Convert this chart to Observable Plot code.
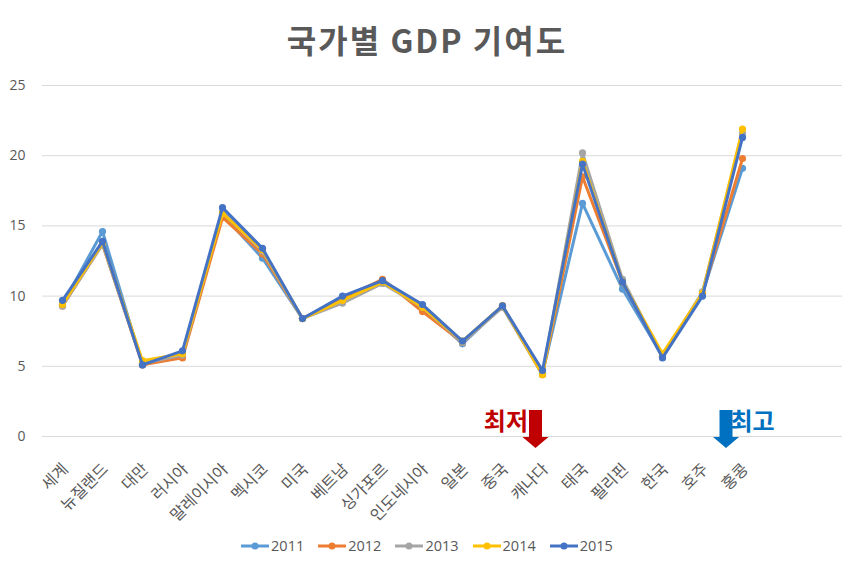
<!DOCTYPE html>
<html>
<head>
<meta charset="utf-8">
<script src="https://cdn.jsdelivr.net/npm/d3@7"></script>
<script src="https://cdn.jsdelivr.net/npm/@observablehq/plot@0.6"></script>
<style>
  html, body { margin: 0; padding: 0; background: #fff; }
  body { width: 854px; height: 570px; position: relative; overflow: hidden;
         font-family: "Open Sans", "Noto Sans CJK KR", sans-serif; color: #595959; }
  #title { position: absolute; left: 0; top: 14px; width: 854px; text-align: center;
           font-family: "Noto Sans CJK KR", sans-serif; font-weight: 700; font-size: 32px;
           line-height: 50px; color: #595959; letter-spacing: 2px; }
  #chart { position: absolute; left: 0; top: 70px; }
  #legend { position: absolute; left: 0; top: 536px; width: 854px; display: flex;
            justify-content: center; align-items: center; font-size: 14.5px; }
  .item { display: flex; align-items: center; margin: 0 7px; }
  .item svg { margin-right: 2px; }
</style>
</head>
<body>
<div id="title">국가별 GDP 기여도</div>
<div id="chart"></div>
<div id="legend"></div>
<script>
const countries = ["세계","뉴질랜드","대만","러시아","말레이시아","멕시코","미국","베트남","싱가포르","인도네시아","일본","중국","캐나다","태국","필리핀","한국","호주","홍콩"];
const years = ["2011","2012","2013","2014","2015"];
const v2011 = [9.4, 14.6, 5.1, 5.8, 15.8, 12.7, 8.4, 9.8, 11.0, 9.2, 6.6, 9.3, 4.5, 16.6, 10.5, 5.7, 10.2, 19.1];
const v2012 = [9.3, 13.7, 5.1, 5.6, 15.6, 13.0, 8.4, 9.8, 11.2, 8.9, 6.7, 9.3, 4.4, 18.5, 11.0, 5.7, 10.2, 19.8];
const v2013 = [9.3, 13.7, 5.2, 5.8, 16.0, 13.2, 8.4, 9.5, 10.9, 9.2, 6.7, 9.2, 4.4, 20.2, 11.2, 5.7, 10.3, 21.6];
const v2014 = [9.4, 13.8, 5.4, 5.9, 15.9, 13.3, 8.4, 9.7, 11.0, 9.2, 6.8, 9.3, 4.4, 19.6, 11.0, 5.9, 10.2, 21.9];
const v2015 = [9.7, 13.9, 5.1, 6.1, 16.3, 13.4, 8.4, 10.0, 11.1, 9.4, 6.8, 9.3, 4.7, 19.4, 11.0, 5.6, 10.0, 21.3];
const yTicks = [0, 5, 10, 15, 20, 25];
const annotations = [
  {label: "최저", country: "캐나다"},
  {label: "최고", country: "홍콩"}
];

const series = [v2011, v2012, v2013, v2014, v2015];
const colors = ["#5B9BD5", "#ED7D31", "#A5A5A5", "#FFC000", "#4472C4"];
const padSlots = ["__pad1", "__pad2"];

const data = [];
years.forEach((yr, i) => countries.forEach((c, j) => data.push({year: yr, country: c, value: series[i][j]})));

const annoStyle = [
  {color: "#C00000", dx: -6.5, side: "left"},
  {color: "#0070C0", dx: -16, side: "right"}
];

function annotationMark(index, scales, values, dimensions) {
  const g = d3.create("svg:g");
  const y0 = scales.y(0);
  annotations.forEach((a, i) => {
    const s = annoStyle[i];
    const x0 = scales.x(a.country) + s.dx;
    const sw = 6.5, hw = 13;
    const top = y0 - 26, hs = y0 + 1, tip = y0 + 12;
    g.append("path")
      .attr("d", `M${x0-sw},${top}H${x0+sw}V${hs}H${x0+hw}L${x0},${tip}L${x0-hw},${hs}H${x0-sw}Z`)
      .attr("fill", s.color);
    g.append("text")
      .attr("x", s.side === "left" ? x0 - sw - 1 : x0 + sw - 2)
      .attr("y", y0 - 17)
      .attr("text-anchor", s.side === "left" ? "end" : "start")
      .attr("dominant-baseline", "central")
      .attr("font-family", "'Noto Sans CJK KR', sans-serif")
      .attr("font-weight", 700)
      .attr("font-size", 24)
      .attr("fill", s.color)
      .text(a.label);
  });
  return g.node();
}

const marks = [
  Plot.gridY(yTicks, {stroke: "#D9D9D9", strokeOpacity: 1, strokeWidth: 1}),
  Plot.axisY(yTicks, {tickSize: 0, tickPadding: 17, fontSize: 14, label: null}),
  Plot.axisX(countries, {tickSize: 0, tickRotate: -45, tickPadding: 20, fontSize: 16, label: null,
                         dx: 3, dy: 10,
                         fontFamily: "'Noto Sans CJK KR', sans-serif"})
];
years.forEach(yr => {
  const d = data.filter(r => r.year === yr);
  marks.push(Plot.line(d, {x: "country", y: "value", stroke: "year", strokeWidth: 3, strokeLinejoin: "round"}));
  marks.push(Plot.dot(d, {x: "country", y: "value", fill: "year", r: 3.6, stroke: "none"}));
});
marks.push(annotationMark);

const chart = Plot.plot({
  width: 854,
  height: 455,
  marginTop: 15,
  marginBottom: 89,
  marginLeft: 42,
  marginRight: 12,
  x: {type: "point", domain: [...countries, ...padSlots], padding: 0.5},
  y: {domain: [0, 25]},
  color: {domain: years, range: colors},
  style: {fontFamily: "'Open Sans', 'Noto Sans CJK KR', sans-serif", fontSize: "14px", color: "#595959", background: "#fff"},
  marks
});
document.getElementById("chart").appendChild(chart);

const legend = d3.select("#legend");
years.forEach((yr, i) => {
  const it = legend.append("div").attr("class", "item");
  const sv = it.append("svg").attr("width", 28).attr("height", 10);
  sv.append("line").attr("x1", 0).attr("x2", 28).attr("y1", 5).attr("y2", 5)
    .attr("stroke", colors[i]).attr("stroke-width", 3);
  sv.append("circle").attr("cx", 14).attr("cy", 5).attr("r", 3.5).attr("fill", colors[i]);
  it.append("span").text(yr);
});
</script>
</body>
</html>
